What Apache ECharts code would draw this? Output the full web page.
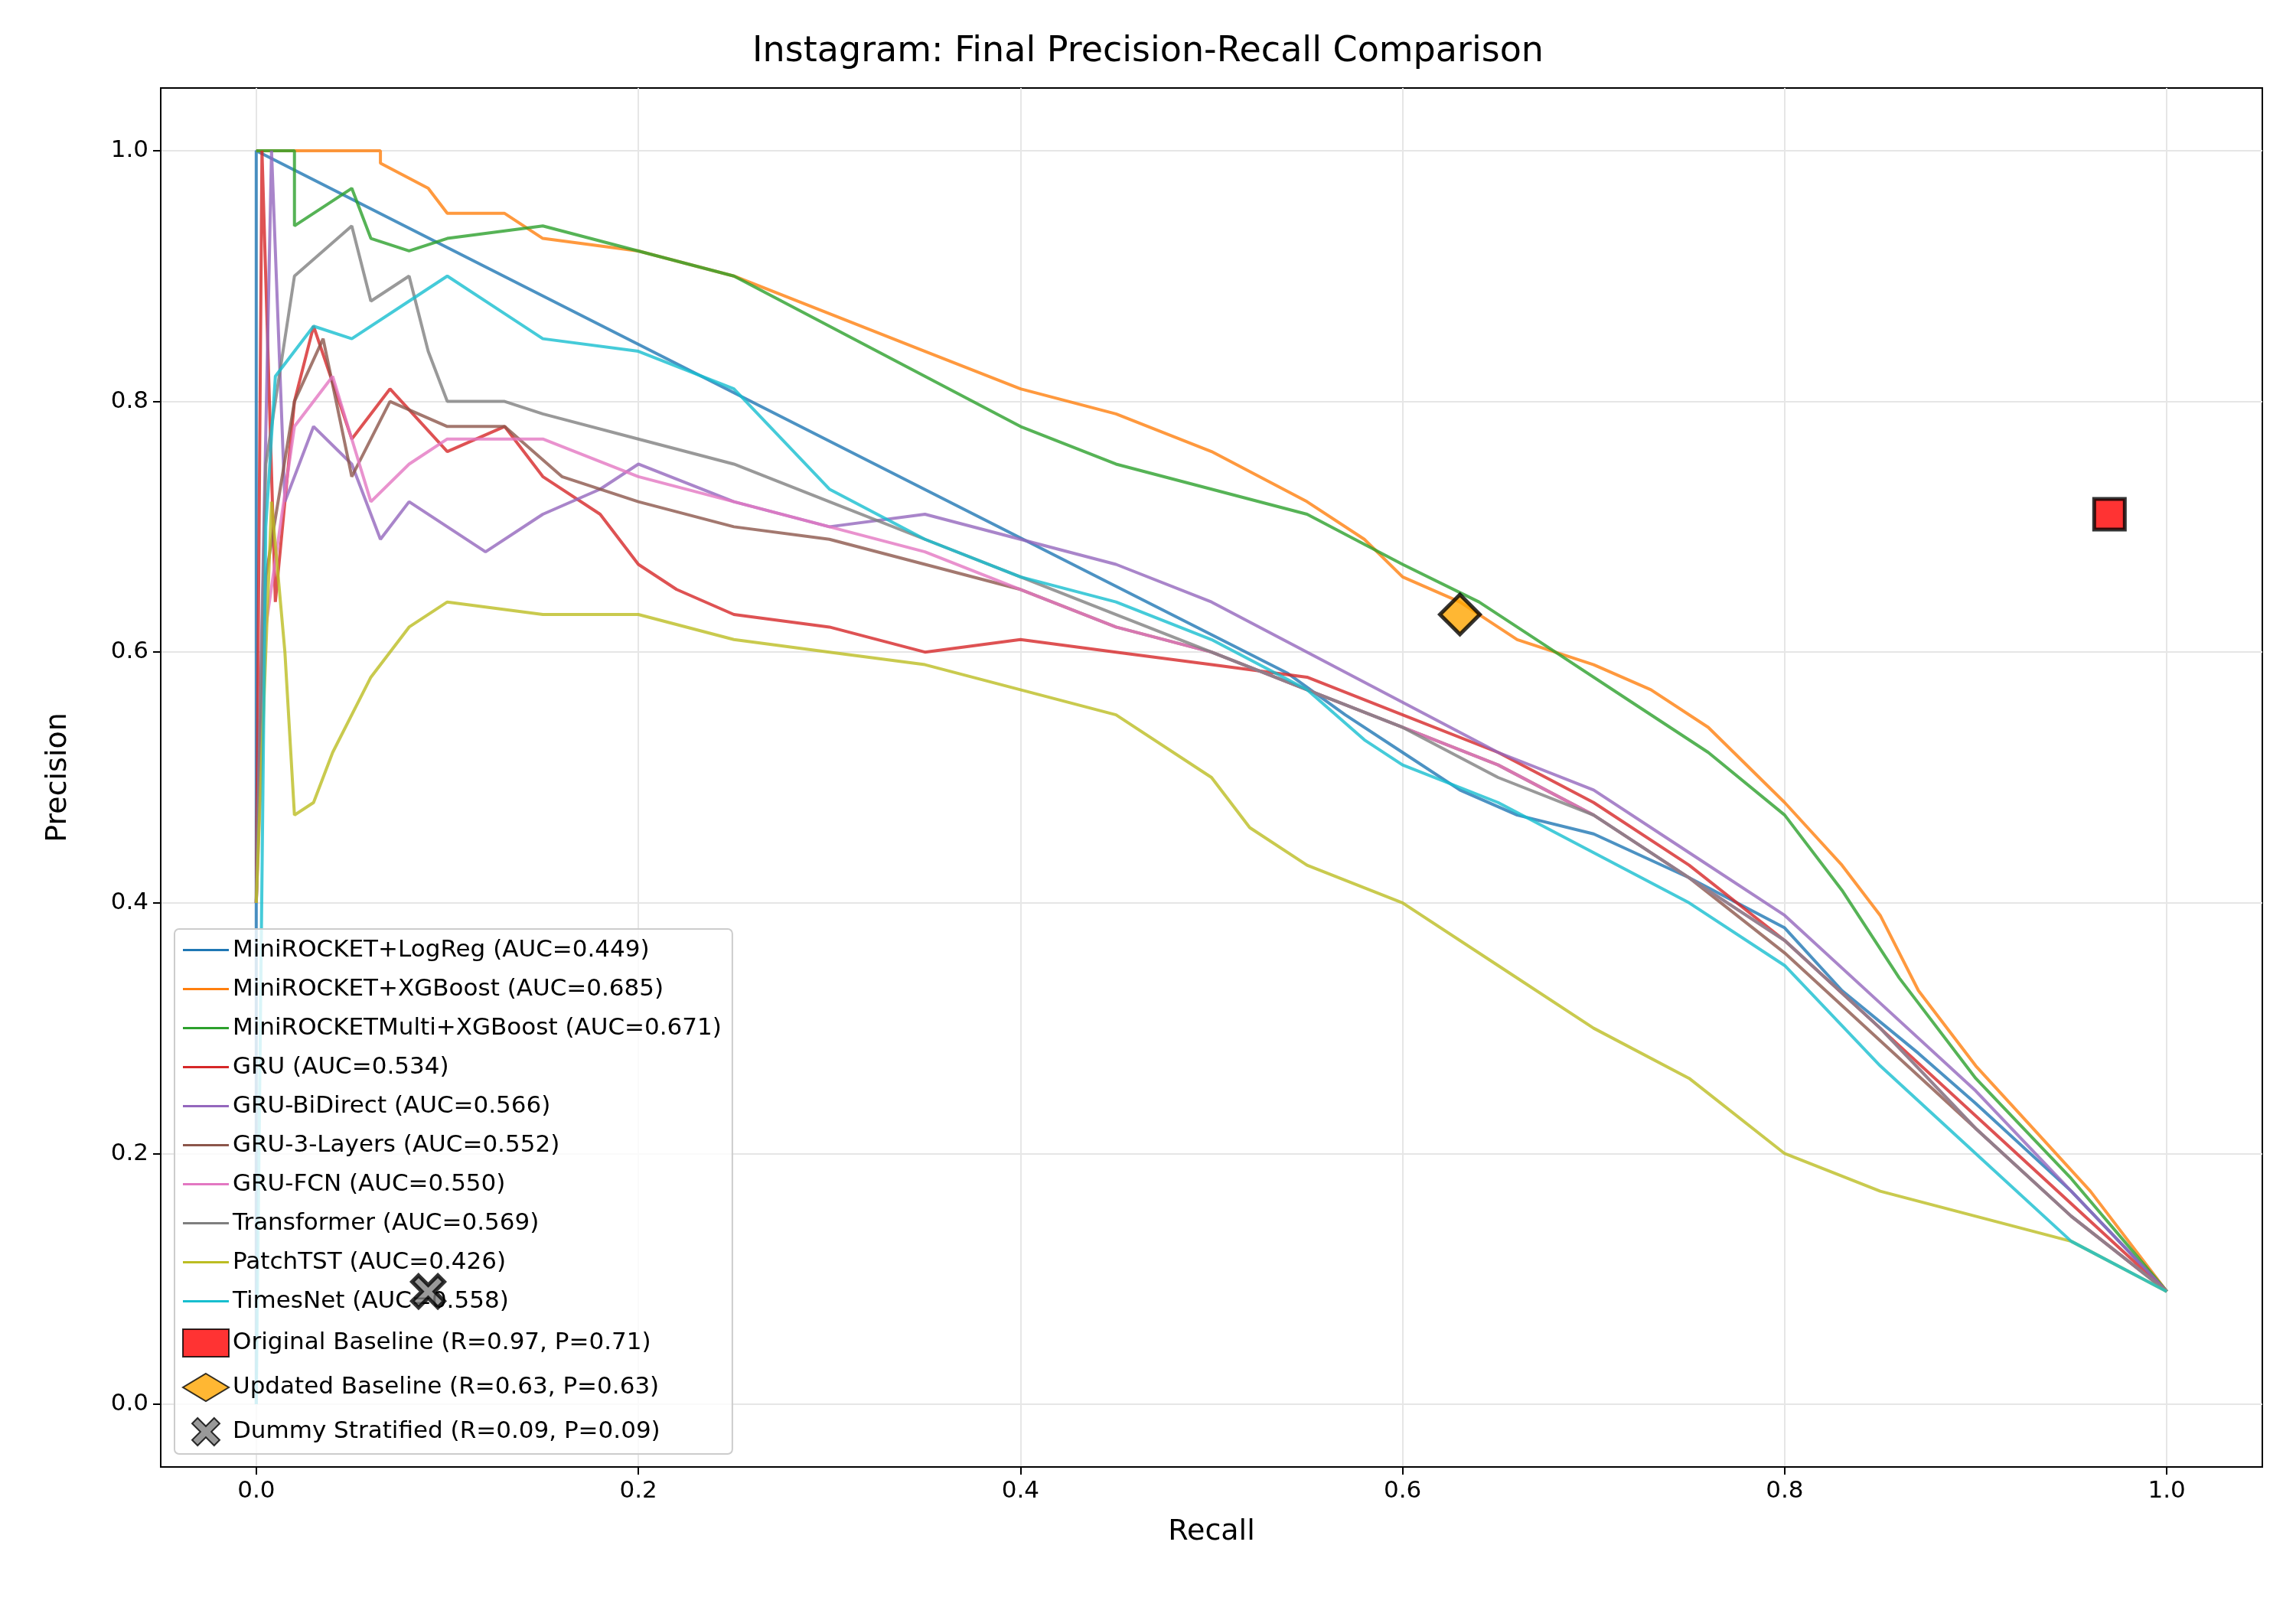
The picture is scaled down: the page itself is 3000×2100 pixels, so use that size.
<!DOCTYPE html><html><head><meta charset="utf-8">
<script src="https://cdn.jsdelivr.net/npm/echarts@6/dist/echarts.min.js"></script>
<style>body{margin:0}#c{width:3000px;height:2100px}</style></head><body><div id="c"></div>
<script>
const names=["MiniROCKET+LogReg (AUC=0.449)","MiniROCKET+XGBoost (AUC=0.685)","MiniROCKETMulti+XGBoost (AUC=0.671)","GRU (AUC=0.534)","GRU-BiDirect (AUC=0.566)","GRU-3-Layers (AUC=0.552)","GRU-FCN (AUC=0.550)","Transformer (AUC=0.569)","PatchTST (AUC=0.426)","TimesNet (AUC=0.558)"];
const colors=["#1f77b4","#ff7f0e","#2ca02c","#d62728","#9467bd","#8c564b","#e377c2","#7f7f7f","#bcbd22","#17becf"];
const logreg=[[0,0],[0,1],[0.54,0.583],[0.57,0.55],[0.6,0.52],[0.63,0.49],[0.66,0.47],[0.7,0.455],[0.75,0.42],[0.8,0.38],[0.83,0.33],[0.87,0.28],[0.9,0.24],[0.95,0.17],[1,0.09]];
const xgb=[[0,1],[0.065,1],[0.065,0.99],[0.09,0.97],[0.1,0.95],[0.13,0.95],[0.15,0.93],[0.2,0.92],[0.25,0.9],[0.3,0.87],[0.35,0.84],[0.4,0.81],[0.45,0.79],[0.5,0.76],[0.55,0.72],[0.58,0.69],[0.6,0.66],[0.63,0.64],[0.66,0.61],[0.7,0.59],[0.73,0.57],[0.76,0.54],[0.8,0.48],[0.83,0.43],[0.85,0.39],[0.87,0.33],[0.9,0.27],[0.93,0.22],[0.96,0.17],[1,0.09]];
const multi=[[0,1],[0.02,1],[0.02,0.94],[0.05,0.97],[0.06,0.93],[0.08,0.92],[0.1,0.93],[0.15,0.94],[0.2,0.92],[0.25,0.9],[0.3,0.86],[0.35,0.82],[0.4,0.78],[0.45,0.75],[0.5,0.73],[0.55,0.71],[0.6,0.67],[0.64,0.64],[0.68,0.6],[0.72,0.56],[0.76,0.52],[0.8,0.47],[0.83,0.41],[0.86,0.34],[0.9,0.26],[0.95,0.18],[1,0.09]];
const gru=[[0,0.4],[0.003,1],[0.01,0.64],[0.02,0.8],[0.03,0.86],[0.05,0.77],[0.07,0.81],[0.1,0.76],[0.13,0.78],[0.15,0.74],[0.18,0.71],[0.2,0.67],[0.22,0.65],[0.25,0.63],[0.3,0.62],[0.35,0.6],[0.4,0.61],[0.45,0.6],[0.5,0.59],[0.55,0.58],[0.6,0.55],[0.65,0.52],[0.7,0.48],[0.75,0.43],[0.8,0.37],[0.85,0.3],[0.9,0.23],[0.95,0.16],[1,0.09]];
const bidir=[[0,0.4],[0.008,1],[0.015,0.72],[0.03,0.78],[0.05,0.75],[0.065,0.69],[0.08,0.72],[0.1,0.7],[0.12,0.68],[0.15,0.71],[0.18,0.73],[0.2,0.75],[0.25,0.72],[0.3,0.7],[0.35,0.71],[0.4,0.69],[0.45,0.67],[0.5,0.64],[0.55,0.6],[0.6,0.56],[0.65,0.52],[0.7,0.49],[0.75,0.44],[0.8,0.39],[0.85,0.32],[0.9,0.25],[0.95,0.17],[1,0.09]];
const gru3=[[0,0.4],[0.005,0.66],[0.02,0.8],[0.035,0.85],[0.05,0.74],[0.07,0.8],[0.1,0.78],[0.13,0.78],[0.16,0.74],[0.2,0.72],[0.25,0.7],[0.3,0.69],[0.35,0.67],[0.4,0.65],[0.45,0.62],[0.5,0.6],[0.55,0.57],[0.6,0.54],[0.65,0.51],[0.7,0.47],[0.75,0.42],[0.8,0.36],[0.85,0.29],[0.9,0.22],[0.95,0.15],[1,0.09]];
const fcn=[[0,0.4],[0.005,0.62],[0.02,0.78],[0.04,0.82],[0.06,0.72],[0.08,0.75],[0.1,0.77],[0.15,0.77],[0.2,0.74],[0.25,0.72],[0.3,0.7],[0.35,0.68],[0.4,0.65],[0.45,0.62],[0.5,0.6],[0.55,0.57],[0.6,0.54],[0.65,0.51],[0.7,0.47],[0.75,0.42],[0.8,0.37],[0.85,0.3],[0.9,0.22],[0.95,0.15],[1,0.09]];
const transf=[[0,0.4],[0.005,0.75],[0.02,0.9],[0.05,0.94],[0.06,0.88],[0.08,0.9],[0.09,0.84],[0.1,0.8],[0.13,0.8],[0.15,0.79],[0.2,0.77],[0.25,0.75],[0.3,0.72],[0.35,0.69],[0.4,0.66],[0.45,0.63],[0.5,0.6],[0.55,0.57],[0.6,0.54],[0.65,0.5],[0.7,0.47],[0.75,0.42],[0.8,0.37],[0.85,0.3],[0.9,0.22],[0.95,0.15],[1,0.09]];
const patch=[[0,0.4],[0.008,0.72],[0.015,0.6],[0.02,0.47],[0.03,0.48],[0.04,0.52],[0.06,0.58],[0.08,0.62],[0.1,0.64],[0.15,0.63],[0.2,0.63],[0.25,0.61],[0.3,0.6],[0.35,0.59],[0.4,0.57],[0.45,0.55],[0.5,0.5],[0.52,0.46],[0.55,0.43],[0.6,0.4],[0.65,0.35],[0.7,0.3],[0.75,0.26],[0.8,0.2],[0.85,0.17],[0.9,0.15],[0.95,0.13],[1,0.09]];
const timesnet=[[0,0],[0.005,0.7],[0.01,0.82],[0.03,0.86],[0.05,0.85],[0.08,0.88],[0.1,0.9],[0.13,0.87],[0.15,0.85],[0.2,0.84],[0.25,0.81],[0.3,0.73],[0.35,0.69],[0.4,0.66],[0.45,0.64],[0.5,0.61],[0.55,0.57],[0.58,0.53],[0.6,0.51],[0.65,0.48],[0.7,0.44],[0.75,0.4],[0.8,0.35],[0.85,0.27],[0.9,0.2],[0.95,0.13],[1,0.09]];
const curves=[logreg,xgb,multi,gru,bidir,gru3,fcn,transf,patch,timesnet];
const baseNames=["Original Baseline (R=0.97, P=0.71)","Updated Baseline (R=0.63, P=0.63)","Dummy Stratified (R=0.09, P=0.09)"];
const basePts=[[0.97,0.71],[0.63,0.63],[0.09,0.09]];
const ticks=[0,0.2,0.4,0.6,0.8,1.0];
const xPath='path://M2,0 L5,3 L8,0 L10,2 L7,5 L10,8 L8,10 L5,7 L2,10 L0,8 L3,5 L0,2 Z';
const baseSym=['rect','diamond',xPath],baseCol=['#ff0000','#ffa500','#808080'],baseSize=[40,52,42];
const series=curves.map((d,i)=>({name:names[i],type:'line',data:d,showSymbol:false,color:colors[i],lineStyle:{width:4,opacity:0.8},z:2}));
basePts.forEach((p,i)=>series.push({name:baseNames[i],type:'scatter',data:[p],symbol:baseSym[i],symbolSize:baseSize[i],itemStyle:{color:baseCol[i],borderColor:'#000',borderWidth:5},z:5}));
const ax={type:'value',min:-0.05,max:1.05,axisLine:{onZero:false,lineStyle:{color:'#000',width:2}},axisTick:{customValues:ticks,length:10,lineStyle:{color:'#000',width:2}},axisLabel:{customValues:ticks,formatter:v=>v.toFixed(1),fontSize:31,color:'#000',fontFamily:'DejaVu Sans',margin:16},splitLine:{show:true,lineStyle:{color:'#e6e6e6',width:2}},nameLocation:'middle',nameTextStyle:{fontSize:38,color:'#000',fontFamily:'DejaVu Sans'}};
const chart=echarts.init(document.getElementById('c'));
chart.setOption({backgroundColor:'#fff',animation:false,
title:{text:'Instagram: Final Precision-Recall Comparison',left:'center',top:40,textStyle:{fontSize:46,fontWeight:'normal',color:'#000',fontFamily:'DejaVu Sans'}},
grid:{left:210,right:44,top:115,bottom:183,show:true,borderColor:'#000',borderWidth:2},
xAxis:Object.assign({},ax,{name:'Recall',nameGap:66}),
yAxis:Object.assign({},ax,{name:'Precision',nameGap:115}),
legend:{orient:'vertical',left:228,bottom:200,itemGap:20,itemWidth:60,itemHeight:36,data:names.map(n=>({name:n,icon:'path://M0,16 L60,16 L60,19 L0,19 Z'})).concat(baseNames.map(n=>({name:n}))),textStyle:{fontSize:31,color:'#000',fontFamily:'DejaVu Sans'},backgroundColor:'rgba(255,255,255,0.8)',borderColor:'#ccc',borderWidth:2,borderRadius:6,padding:[12,14,10,10]},
series:series});
</script></body></html>
